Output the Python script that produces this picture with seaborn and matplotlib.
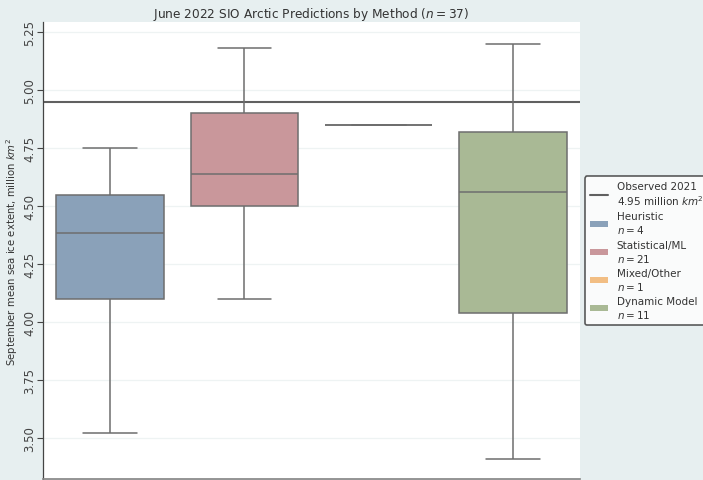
import numpy as np
import pandas as pd
import matplotlib
matplotlib.use("Agg")
import matplotlib.pyplot as plt
from matplotlib.lines import Line2D
from matplotlib.patches import Patch
import seaborn as sns

# September mean sea ice extent predictions (million km^2), grouped by method
methods = ["Heuristic", "Statistical/ML", "Mixed/Other", "Dynamic Model"]
heuristic = [3.52, 4.29, 4.48, 4.75]
statistical_ml = [4.10, 4.30, 4.38, 4.42, 4.47, 4.50, 4.53, 4.56, 4.59, 4.62, 4.64,
                  4.67, 4.72, 4.78, 4.85, 4.90, 4.95, 5.00, 5.05, 5.10, 5.18]
mixed_other = [4.85]
dynamic_model = [3.41, 3.80, 3.95, 4.13, 4.40, 4.56, 4.65, 4.75, 4.89, 5.00, 5.20]
observed_2021 = 4.95
method_colors = ["#8aa1b9", "#c9979b", "#f2be84", "#a9b995"]

groups = [heuristic, statistical_ml, mixed_other, dynamic_model]
df = pd.DataFrame({
    "method": [m for m, g in zip(methods, groups) for _ in g],
    "extent": [v for g in groups for v in g],
})
n_total = len(df)

sns.set_theme(style="white")
plt.rcParams["font.family"] = ["DejaVu Sans"]

fig = plt.figure(figsize=(7.03, 4.81), dpi=100, facecolor="#e7eff0")
ax = fig.add_axes([0.0612, 0.002, 0.7639, 0.950])
ax.set_facecolor("white")

ax.axhline(observed_2021, color="#606060", lw=1.5, zorder=1)

line_color = "#6e6e6e"
sns.boxplot(
    data=df, x="method", y="extent", hue="method", order=methods,
    hue_order=methods, palette=method_colors, saturation=1, width=0.8,
    legend=False, ax=ax, linecolor=line_color, linewidth=1.1, showfliers=False,
    zorder=2,
)

ax.set_ylim(3.323, 5.293)
ax.set_xlim(-0.5, 3.5)
ax.set_yticks([3.50, 3.75, 4.00, 4.25, 4.50, 4.75, 5.00, 5.25])
ax.set_yticklabels([f"{t:.2f}" for t in ax.get_yticks()], rotation=90,
                   va="center", fontsize=8.5, color="#444444")
ax.tick_params(axis="y", length=4, width=0.8, color="#444444", pad=1, left=True)
ax.set_xticks([])
ax.set_xlabel("")
ax.set_ylabel("September mean sea ice extent, million $km^2$", fontsize=7.3,
              color="#333333", labelpad=2)
ax.grid(axis="y", color="#eef3f3", lw=0.9)
ax.set_axisbelow(True)
for side in ["top", "right"]:
    ax.spines[side].set_visible(False)
ax.spines["left"].set_color("#444444")
ax.spines["left"].set_linewidth(0.9)
ax.spines["bottom"].set_color("#888888")

ax.set_title(f"June 2022 SIO Arctic Predictions by Method ($n={n_total}$)",
             fontsize=8.7, color="#333333", pad=4)

handles = [Line2D([0], [0], color="#606060", lw=1.5)]
labels = [f"Observed 2021\n{observed_2021:.2f} million $km^2$"]
for m, g, c in zip(methods, groups, method_colors):
    handles.append(Patch(facecolor=c, edgecolor="none"))
    labels.append(f"{m}\n$n={len(g)}$")
leg = ax.legend(handles, labels, loc="center left", bbox_to_anchor=(1.009, 0.5),
                fontsize=7.5, frameon=True, fancybox=True, handlelength=1.8,
                handleheight=0.5, labelspacing=0.4, borderpad=0.45,
                handletextpad=0.8, borderaxespad=0)
leg.get_frame().set_edgecolor("#333333")
leg.get_frame().set_linewidth(1.2)
leg.get_frame().set_facecolor("white")
for t in leg.get_texts():
    t.set_color("#333333")

fig.savefig("out.png", dpi=100, facecolor=fig.get_facecolor())
